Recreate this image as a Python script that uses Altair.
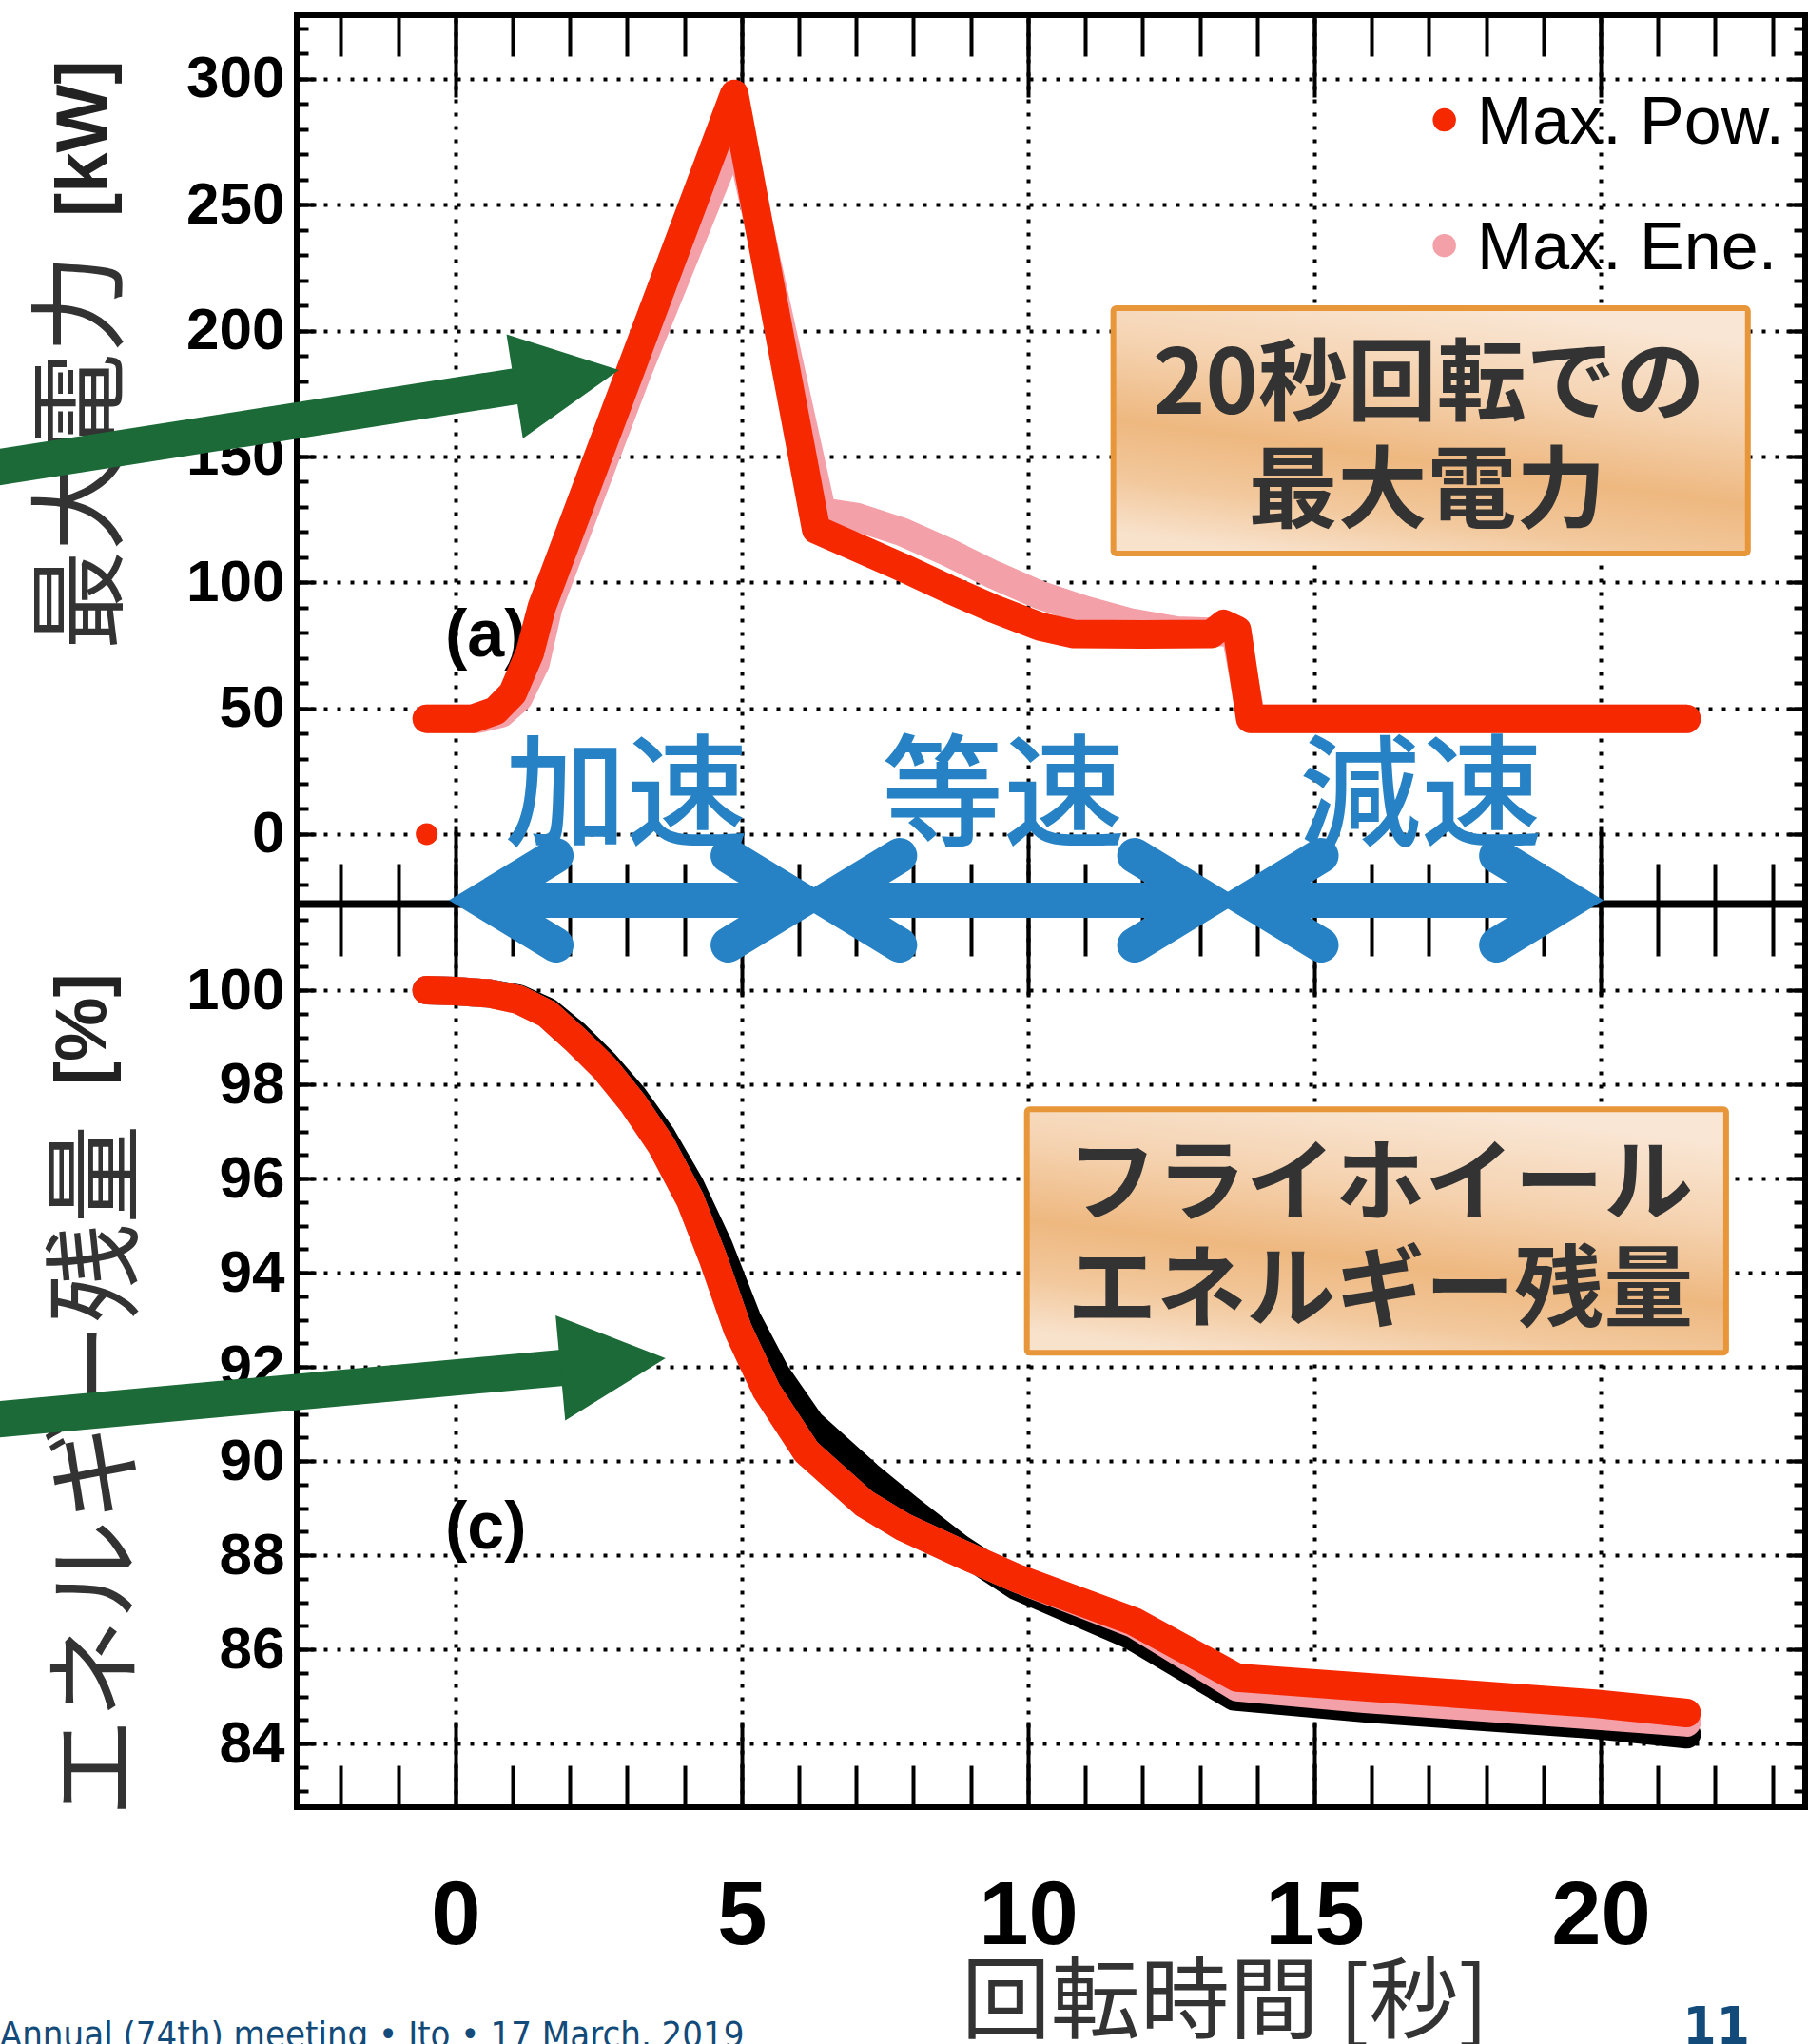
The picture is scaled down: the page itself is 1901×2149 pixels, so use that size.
import altair as alt
import pandas as pd

# ---------------- data ----------------
# (a) maximum power over a 20 s rotation cycle [kW]
pow_t = [-0.5, 0.3, 0.7, 1.0, 1.3, 1.51, 3.06, 4.87, 6.3, 7.0, 7.8, 8.6, 9.4, 10.2,
         10.8, 12.0, 13.2, 13.42, 13.65, 13.88, 21.5]
pow_kw = [45.8, 45.8, 49.0, 56.0, 72.0, 90.3, 184.4, 294.0, 121.0, 114.0, 106.0, 97.5,
          89.5, 82.5, 79.5, 79.3, 79.5, 83.5, 81.0, 45.8, 45.8]
ene_t = [-0.5, 0.4, 0.8, 1.1, 1.4, 1.62, 3.17, 4.92, 6.4, 7.0, 7.8, 8.6, 9.4, 10.2,
         11.0, 11.8, 12.6, 13.3, 13.62, 13.9, 21.5]
ene_kw = [45.8, 45.8, 48.0, 54.0, 68.0, 90.0, 183.0, 281.0, 128.0, 126.0, 120.0, 112.0,
          103.0, 95.0, 89.0, 84.0, 80.8, 80.3, 80.5, 45.8, 45.8]
stray_t = [-0.5]
stray_kw = [0.0]

# (c) remaining flywheel energy [%]
rem_pow_t = [-0.5, 0.0, 0.6, 1.1, 1.6, 2.1, 2.6, 3.1, 3.6, 4.1, 4.5, 4.93, 5.43, 6.13,
             7.14, 7.82, 8.8, 9.83, 11.84, 13.65, 15.88, 19.9, 21.5]
rem_pow_pct = [100.0, 99.98, 99.93, 99.8, 99.5, 98.95, 98.35, 97.6, 96.7, 95.55, 94.3,
               92.8, 91.5, 90.2, 89.1, 88.6, 88.05, 87.5, 86.6, 85.4, 85.2, 84.85, 84.65]
rem_ene_t = [-0.5, 0.0, 0.6, 1.1, 1.6, 2.1, 2.6, 3.1, 3.6, 4.1, 4.5, 4.93, 5.43, 6.13,
             7.14, 7.82, 8.8, 9.83, 11.84, 13.65, 15.88, 19.9, 21.5]
rem_ene_pct = [100.0, 99.98, 99.93, 99.8, 99.5, 98.95, 98.35, 97.6, 96.7, 95.55, 94.3,
               92.8, 91.5, 90.2, 89.1, 88.6, 88.05, 87.5, 86.55, 85.2, 84.95, 84.6, 84.45]
rem_ref_t = [-0.5, 0.0, 0.6, 1.1, 1.6, 2.1, 2.6, 3.1, 3.6, 4.1, 4.6, 5.1, 5.6, 6.2,
             7.2, 7.9, 8.8, 9.8, 11.8, 13.6, 15.9, 19.9, 21.5]
rem_ref_pct = [100.0, 99.98, 99.93, 99.82, 99.55, 99.05, 98.45, 97.75, 96.9, 95.85, 94.55,
               93.0, 91.85, 90.8, 89.7, 89.0, 88.15, 87.35, 86.3, 85.0, 84.75, 84.4, 84.2]

# axis ticks
X_MAJOR = [0, 5, 10, 15, 20]
X_MINOR = list(range(-2, 24))
TOP_MAJOR = list(range(0, 301, 50))
TOP_MINOR = list(range(-20, 321, 10))
BOT_MAJOR = list(range(84, 101, 2))
BOT_MINOR = [83 + 0.5 * i for i in range(38)]

# rotation phases
phase_names = ["加速", "等速", "減速"]
phase_label_t = [2.99, 9.57, 16.86]
phase_start = [-0.12, 5.88, 13.24]
phase_end = [6.64, 13.74, 20.06]

# ---------------- geometry ----------------
PLOT_W, TOP_H, PLOT_H = 1586, 934, 1884
X_DOM = [-2.77, 23.57]
TOP_DOM = [-27.6, 325.3]
BOT_DOM = [82.65, 101.84]
PX_S = PLOT_W / (X_DOM[1] - X_DOM[0])
PX_KW = TOP_H / (TOP_DOM[1] - TOP_DOM[0])

RED = "#f52800"
PINK = "#f3a0a8"
BLUE = "#2682c5"
GREEN = "#1b6a37"
INK = "#333333"
NAVY = "#124a7a"
JP = "Noto Sans CJK JP"
HV = "Liberation Sans"


def sx():
    return alt.Scale(domain=X_DOM, nice=False, zero=False)


def sy_top():
    return alt.Scale(domain=TOP_DOM, range=[TOP_H, 0], nice=False, zero=False)


def sy_bot():
    return alt.Scale(domain=BOT_DOM, range=[PLOT_H, TOP_H], nice=False, zero=False)


def xy(ysc):
    return dict(x=alt.X("t:Q", scale=sx(), axis=None),
                y=alt.Y("v:Q", scale=ysc, axis=None))


def line(t, v, ysc, color, width, cap="round", join="round", group=None):
    df = pd.DataFrame({"t": t, "v": v, "i": range(len(t))})
    enc = xy(ysc)
    enc["order"] = alt.Order("i:Q")
    if group is not None:
        df["g"] = group
        enc["detail"] = "g:N"
    return alt.Chart(df).mark_line(color=color, strokeWidth=width, strokeCap=cap,
                                   strokeJoin=join).encode(**enc)


def text(rows, ysc, **kw):
    df = pd.DataFrame(rows, columns=["t", "v", "s"])
    return alt.Chart(df).mark_text(**kw).encode(text="s:N", **xy(ysc))


def base_axis(values, **kw):
    ax = dict(values=values, title=None, labels=False, ticks=False, grid=False,
              domain=False, zindex=0, tickColor="black", tickWidth=4)
    ax.update(kw)
    return alt.Axis(**ax)


def x_axis(values, **kw):
    df = pd.DataFrame({"v": values})
    return alt.Chart(df).mark_point(opacity=0).encode(
        x=alt.X("v:Q", scale=sx(), axis=base_axis(values, **kw)))


def y_axis(values, ysc, **kw):
    df = pd.DataFrame({"v": values})
    return alt.Chart(df).mark_point(opacity=0).encode(
        y=alt.Y("v:Q", scale=ysc, axis=base_axis(values, **kw)))


GRID = dict(grid=True, gridColor="black", gridDash=[4, 10], gridWidth=4, gridOpacity=1)
YLAB = dict(labels=True, labelFont=HV, labelFontWeight="bold", labelFontSize=62,
            labelColor="black", labelPadding=13, tickSize=0, labelFlush=False,
            labelOverlap=False)

layers = []

# ---- axes: labels, dotted grid and inward ticks on every edge ----
layers += [
    x_axis(X_MAJOR, orient="bottom", labels=True, labelFont=HV, labelFontWeight="bold",
           labelFontSize=94, labelColor="black", labelPadding=115, labelBaseline="middle",
           labelFlush=False, labelOverlap=False, tickSize=0, **GRID),
    x_axis(X_MAJOR, orient="bottom", offset=-PLOT_H, ticks=True, tickSize=86),
    x_axis(X_MINOR, orient="bottom", offset=-PLOT_H, ticks=True, tickSize=43),
    x_axis(X_MAJOR, orient="top", offset=-TOP_H, ticks=True, tickSize=82,
           domain=True, domainColor="black", domainWidth=8),
    x_axis(X_MINOR, orient="top", offset=-TOP_H, ticks=True, tickSize=42),
    x_axis(X_MAJOR, orient="bottom", offset=-(PLOT_H - TOP_H), ticks=True, tickSize=98),
    x_axis(X_MINOR, orient="bottom", offset=-(PLOT_H - TOP_H), ticks=True, tickSize=55),
    x_axis(X_MAJOR, orient="top", offset=-PLOT_H, ticks=True, tickSize=90),
    x_axis(X_MINOR, orient="top", offset=-PLOT_H, ticks=True, tickSize=44),
]
for major, minor, ysc in ((TOP_MAJOR, TOP_MINOR, sy_top), (BOT_MAJOR, BOT_MINOR, sy_bot)):
    layers += [
        y_axis(major, ysc(), orient="left", **YLAB, **GRID),
        y_axis(major, ysc(), orient="right", offset=-PLOT_W, ticks=True, tickSize=20),
        y_axis(minor, ysc(), orient="right", offset=-PLOT_W, ticks=True, tickSize=12),
        y_axis(major, ysc(), orient="left", offset=-PLOT_W, ticks=True, tickSize=20),
        y_axis(minor, ysc(), orient="left", offset=-PLOT_W, ticks=True, tickSize=12),
    ]

# ---- highlighted captions ----
box_fill = alt.LinearGradient(
    gradient="linear", x1=0.6, y1=0, x2=0.25, y2=1,
    stops=[alt.GradientStop(color="#f9e6d4", offset=0),
           alt.GradientStop(color="#f5d3b1", offset=0.3),
           alt.GradientStop(color="#eeb880", offset=0.59),
           alt.GradientStop(color="#f2c89c", offset=0.8),
           alt.GradientStop(color="#f8e2cc", offset=1)])


def caption_box(t1, t2, v1, v2, ysc):
    df = pd.DataFrame({"t": [t1], "t2": [t2], "v": [v1], "v2": [v2]})
    return alt.Chart(df).mark_rect(fill=box_fill, stroke="#e8963a", strokeWidth=6,
                                   cornerRadius=3).encode(
        x=alt.X("t:Q", scale=sx(), axis=None), x2="t2:Q",
        y=alt.Y("v:Q", scale=ysc, axis=None), y2="v2:Q")


layers += [
    caption_box(11.49, 22.57, 111.4, 208.9, sy_top()),
    text([(17.0, 177.7, "20秒回転での"), (16.97, 134.7, "最大電力")], sy_top(),
         font=JP, fontWeight="bold", fontSize=94, color=INK, align="center",
         baseline="middle"),
    caption_box(9.98, 22.19, 92.30, 97.47, sy_bot()),
    text([(16.15, 95.83, "フライホイール"), (16.15, 93.55, "エネルギー残量")], sy_bot(),
         font=JP, fontWeight="bold", fontSize=94, color=INK, align="center",
         baseline="middle"),
]

# ---- legend and panel tags ----
legend_df = pd.DataFrame({"t": [17.27, 17.27], "v": [283.7, 233.8],
                          "c": ["Max. Pow.", "Max. Ene."]})
layers += [
    alt.Chart(legend_df).mark_point(filled=True, size=600, opacity=1).encode(
        color=alt.Color("c:N", scale=alt.Scale(domain=["Max. Pow.", "Max. Ene."],
                                               range=[RED, PINK]), legend=None),
        **xy(sy_top())),
    text([(17.84, 282.2, "Max. Pow."), (17.84, 232.3, "Max. Ene.")], sy_top(),
         font=HV, fontSize=70, color="black", align="left", baseline="middle"),
    text([(0.53, 78.6, "(a)")], sy_top(), font=HV, fontWeight="bold", fontSize=70,
         color="black", align="center", baseline="middle"),
    text([(0.53, 88.57, "(c)")], sy_bot(), font=HV, fontWeight="bold", fontSize=70,
         color="black", align="center", baseline="middle"),
]

# ---- curves ----
stray_df = pd.DataFrame({"t": stray_t, "v": stray_kw})
layers += [
    line(ene_t, ene_kw, sy_top(), PINK, 30),
    line(pow_t, pow_kw, sy_top(), RED, 30),
    alt.Chart(stray_df).mark_point(filled=True, size=529, opacity=1, color=RED).encode(
        **xy(sy_top())),
    line(rem_ref_t, rem_ref_pct, sy_bot(), "black", 30),
    line(rem_ene_t, rem_ene_pct, sy_bot(), PINK, 30),
    line(rem_pow_t, rem_pow_pct, sy_bot(), RED, 30),
]

# ---- axis titles and footer ----
FOOT = "DejaVu Sans Condensed, DejaVu Sans"
layers += [
    text([(-6.456, 151.9, "最大電力")], sy_top(), font=JP, fontSize=104, color=INK,
         angle=270, align="center", baseline="middle"),
    text([(-6.48, 276.3, "[kW]")], sy_top(), font=HV, fontWeight="bold", fontSize=76,
         color="#222222", angle=270, align="center", baseline="middle"),
    text([(-6.195, 89.79, "エネルギー残量")], sy_bot(), font=JP, fontSize=104, color=INK,
         angle=270, align="center", baseline="middle"),
    text([(-6.49, 99.17, "[%]")], sy_bot(), font=HV, fontWeight="bold", fontSize=76,
         color="#222222", angle=270, align="center", baseline="middle"),
    text([(13.44, 78.45, "回転時間 [秒]")], sy_bot(), font=JP, fontSize=94, color=INK,
         align="center", baseline="middle"),
    text([(-7.955, 77.556, "Annual (74th) meeting • Ito • 17 March, 2019")], sy_bot(),
         font=FOOT, fontSize=38, color=NAVY, align="left", baseline="alphabetic"),
    text([(22.02, 77.62, "11")], sy_bot(), font=FOOT, fontWeight="bold",
         fontSize=56, color=NAVY, align="center", baseline="alphabetic"),
]

# ---- green pointer arrows ----
HEAD = "M1,0L-1,-1L-1,1Z"
layers += [
    line([-8.288, 1.298], [144.65, 178.8], sy_top(), GREEN, 38, cap="butt"),
    alt.Chart(pd.DataFrame({"t": [1.946], "v": [181.1]})).mark_point(
        shape=HEAD, filled=True, size=12321, angle=351.1, color=GREEN, opacity=1,
        strokeWidth=0).encode(**xy(sy_top())),
    line([-8.288, 2.099], [90.853, 92.008], sy_bot(), GREEN, 38, cap="butt"),
    alt.Chart(pd.DataFrame({"t": [2.752], "v": [92.08]})).mark_point(
        shape=HEAD, filled=True, size=12321, angle=354.78, color=GREEN, opacity=1,
        strokeWidth=0).encode(**xy(sy_bot())),
]

# ---- phase labels and double-headed arrows ----
ARROW_KW = -26.3
ARM_KW = 47 / PX_KW
TIP_TO_VERTEX = 36 / PX_S
TIP_TO_ARM = 113 / PX_S

shaft_t, shaft_v, shaft_g = [], [], []
head_t, head_v, head_g = [], [], []
for k, (a, b) in enumerate(zip(phase_start, phase_end)):
    va, vb = a + TIP_TO_VERTEX, b - TIP_TO_VERTEX
    shaft_t += [va, vb]
    shaft_v += [ARROW_KW, ARROW_KW]
    shaft_g += [k, k]
    for side, (vx, arm) in enumerate(((va, a + TIP_TO_ARM), (vb, b - TIP_TO_ARM))):
        head_t += [arm, vx, arm]
        head_v += [ARROW_KW + ARM_KW, ARROW_KW, ARROW_KW - ARM_KW]
        head_g += [2 * k + side] * 3

layers += [
    text(list(zip(phase_label_t, [13.2] * 3, phase_names)), sy_top(), font=JP,
         fontWeight=500, fontSize=128, color=BLUE, align="center", baseline="middle"),
    line(shaft_t, shaft_v, sy_top(), BLUE, 37, cap="butt", group=shaft_g),
    line(head_t, head_v, sy_top(), BLUE, 37, cap="round", join="miter", group=head_g),
]

chart = (
    alt.layer(*layers)
    .resolve_scale(y="independent")
    .resolve_axis(x="independent", y="independent")
    .properties(width=PLOT_W, height=PLOT_H, background="white",
                padding={"left": 312, "top": 16, "right": 3, "bottom": 249},
                autosize=alt.AutoSizeParams(type="none"))
    .configure_view(stroke="black", strokeWidth=6)
)

chart.save("out.html", embed_options={"renderer": "svg", "actions": False})
